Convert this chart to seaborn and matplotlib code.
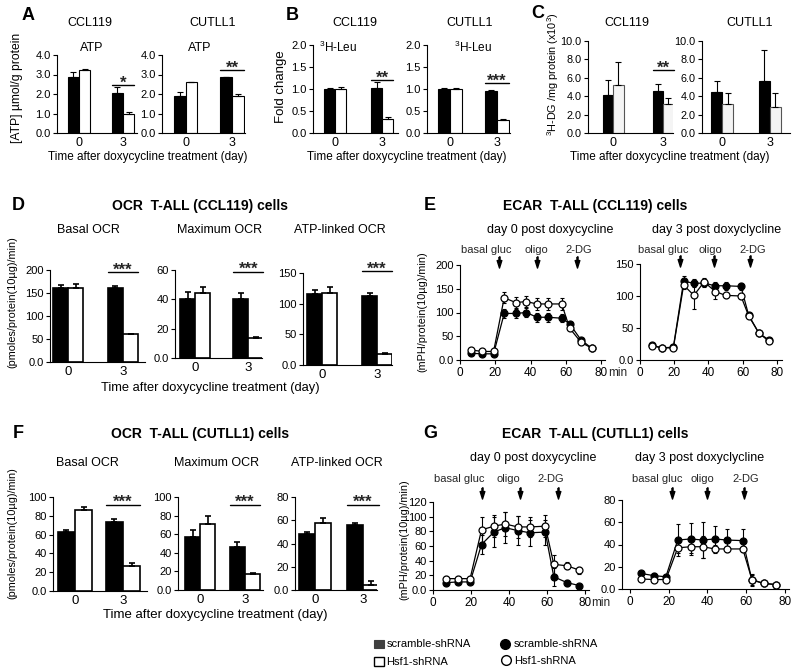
import matplotlib
matplotlib.use('Agg')
import matplotlib.pyplot as plt
from matplotlib import font_manager
from matplotlib.patches import Rectangle
from matplotlib.lines import Line2D
import seaborn as sns
import pandas as pd

# ---------------- data ----------------
groups = ['scramble-shRNA', 'Hsf1-shRNA']
days = ['0', '3']

# A: ATP (umol/g protein), [day0, day3]
A_ccl_scr = [2.85, 2.05]; A_ccl_scr_err = [0.30, 0.30]
A_ccl_hsf = [3.25, 0.95]; A_ccl_hsf_err = [0.05, 0.12]
A_cut_scr = [1.90, 2.85]; A_cut_scr_err = [0.20, 0.03]
A_cut_hsf = [2.60, 1.90]; A_cut_hsf_err = [0.03, 0.10]
A_yticks = [0, 1, 2, 3, 4]
A_yticklabels = ['0.0', '1.0', '2.0', '3.0', '4.0']

# B: 3H-Leu fold change
B_ccl_scr = [1.00, 1.03]; B_ccl_scr_err = [0.02, 0.12]
B_ccl_hsf = [1.00, 0.32]; B_ccl_hsf_err = [0.04, 0.04]
B_cut_scr = [1.00, 0.95]; B_cut_scr_err = [0.03, 0.03]
B_cut_hsf = [1.00, 0.30]; B_cut_hsf_err = [0.03, 0.02]
B_yticks = [0, 0.5, 1.0, 1.5, 2.0]
B_yticklabels = ['0.0', '0.5', '1.0', '1.5', '2.0']

# C: 3H-DG /mg protein (x10^3)
C_ccl_scr = [4.1, 4.6]; C_ccl_scr_err = [1.7, 0.7]
C_ccl_hsf = [5.2, 3.2]; C_ccl_hsf_err = [2.5, 0.6]
C_cut_scr = [4.5, 5.6]; C_cut_scr_err = [1.2, 3.4]
C_cut_hsf = [3.1, 2.8]; C_cut_hsf_err = [1.3, 1.6]
C_yticks = [0, 2, 4, 6, 8, 10]
C_yticklabels = ['0.0', '2.0', '4.0', '6.0', '8.0', '10.0']

# D: OCR CCL119
D_basal_scr = [160, 160]; D_basal_scr_err = [7, 5]
D_basal_hsf = [160, 60]; D_basal_hsf_err = [9, 1]
D_max_scr = [40.3, 40.3]; D_max_scr_err = [5.0, 4.0]
D_max_hsf = [44.0, 13.6]; D_max_hsf_err = [4.5, 0.5]
D_atp_scr = [116, 112]; D_atp_scr_err = [7, 6]
D_atp_hsf = [117, 18]; D_atp_hsf_err = [10, 2]
D_basal_yticks = [0, 50, 100, 150, 200]; D_basal_yticklabels = ['0.0', '50', '100', '150', '200']
D_max_yticks = [0, 20, 40, 60]; D_max_yticklabels = ['0.0', '20', '40', '60']
D_atp_yticks = [0, 50, 100, 150]; D_atp_yticklabels = ['0.0', '50', '100', '150']

# F: OCR CUTLL1
F_basal_scr = [63, 73]; F_basal_scr_err = [1.5, 3.5]
F_basal_hsf = [86, 26.4]; F_basal_hsf_err = [3, 3.5]
F_max_scr = [57.5, 46]; F_max_scr_err = [6.5, 6]
F_max_hsf = [71, 17]; F_max_hsf_err = [8.6, 1]
F_atp_scr = [48.3, 56]; F_atp_scr_err = [2, 2]
F_atp_hsf = [58, 4.3]; F_atp_hsf_err = [4, 3.5]
F_yticks100 = [0, 20, 40, 60, 80, 100]; F_yticklabels100 = ['0.0', '20', '40', '60', '80', '100']
F_yticks80 = [0, 20, 40, 60, 80]; F_yticklabels80 = ['0.0', '20', '40', '60', '80']

# E: ECAR CCL119 (time in min)
E0_t = [6.5, 12.5, 19, 25, 31.5, 37.5, 43.5, 49.5, 57.5, 62, 68.5, 74.5]
E0_scr = [14, 13, 13, 98, 98, 100, 90, 90, 88, 76, 42, 25]
E0_scr_err = [3, 3, 3, 10, 10, 10, 9, 9, 9, 4, 4, 3]
E0_hsf = [21, 18, 18, 131, 121, 123, 118, 118, 118, 67, 37, 25]
E0_hsf_err = [3, 3, 3, 12, 12, 12, 12, 12, 12, 4, 4, 3]
E3_t = [7, 13, 19.5, 25.5, 31.5, 37.5, 44, 50, 59, 63.5, 69.5, 75.5]
E3_scr = [23, 19, 20, 123, 120, 120, 116, 116, 115, 70, 42, 31]
E3_scr_err = [3, 3, 3, 8, 6, 6, 6, 6, 6, 4, 4, 3]
E3_hsf = [22, 19, 19, 117, 101, 122, 107, 101, 100, 69, 42, 29]
E3_hsf_err = [3, 3, 3, 6, 21, 6, 12, 4, 4, 4, 3, 3]
E0_yticks = [0, 50, 100, 150, 200]; E0_yticklabels = ['0.0', '50', '100', '150', '200']
E3_yticks = [0, 50, 100, 150]; E3_yticklabels = ['0.0', '50', '100', '150']

# G: ECAR CUTLL1
G0_t = [7, 13, 19.5, 25.5, 32, 38, 44.5, 51, 59, 63.5, 70.5, 77]
G0_scr = [10, 11, 11, 62, 79, 85, 81, 78, 79, 18, 10, 6]
G0_scr_err = [3, 3, 3, 13, 20, 21, 20, 18, 17, 12, 4, 2]
G0_hsf = [15.5, 15.5, 15.5, 82, 87, 90, 86, 86, 87, 35, 33, 27]
G0_hsf_err = [3, 3, 3, 17, 15, 16, 15, 14, 15, 13, 5, 5]
G3_t = [5.7, 12.4, 18.6, 24.7, 31.4, 37.6, 43.8, 50, 58.2, 62.9, 69, 75.3]
G3_scr = [14, 12, 11, 44, 45, 44, 45, 44, 43.5, 8, 5, 4]
G3_scr_err = [2, 2, 2, 14, 14, 16, 12, 10, 10, 5, 2, 1]
G3_hsf = [9, 8.5, 8.5, 37, 38, 38, 36, 36, 36, 8.5, 5, 4]
G3_hsf_err = [2, 2, 2, 5, 6, 10, 4, 3, 3, 5, 2, 1]
G0_yticks = [0, 20, 40, 60, 80, 100, 120]; G0_yticklabels = ['0.0', '20', '40', '60', '80', '100', '120']
G3_yticks = [0, 20, 40, 60, 80]; G3_yticklabels = ['0.0', '20', '40', '60', '80']

time_ticks = [0, 20, 40, 60, 80]
time_ticklabels = ['0', '20', '40', '60', '80']

# ---------------- style ----------------
sns.set_theme(style='ticks')
names = {f.name for f in font_manager.fontManager.ttflist}
BASE = 'Liberation Sans' if 'Liberation Sans' in names else 'DejaVu Sans'
NARROW = 'Liberation Sans Narrow' if 'Liberation Sans Narrow' in names else None
plt.rcParams['font.family'] = [BASE, 'DejaVu Sans']
plt.rcParams['axes.linewidth'] = 0.8
plt.rcParams['mathtext.default'] = 'regular'

W, H = 800, 672
fig = plt.figure(figsize=(W / 100, H / 100), dpi=100)
fig.patch.set_facecolor('white')


def rect(x0, y_top, x1, y_bot):
    return [x0 / W, 1 - y_bot / H, (x1 - x0) / W, (y_bot - y_top) / H]


def ftext(x, y, s, size=9, rot=0, weight='normal', family=None, ha='center'):
    kw = {}
    if family:
        kw['family'] = family
    fig.text(x / W, 1 - y / H, s, ha=ha, va='center', fontsize=size, rotation=rot,
             fontweight=weight, color='black', **kw)


def style_axes(ax, ylim, yticks, yticklabels, xlim, ysize=8):
    ax.set_ylim(*ylim)
    ax.set_yticks(yticks)
    ax.set_yticklabels(yticklabels)
    ax.set_xlim(*xlim)
    sns.despine(ax=ax)
    for s in ('left', 'bottom'):
        ax.spines[s].set_linewidth(0.8)
        ax.spines[s].set_color('black')
    ax.tick_params(axis='y', direction='out', length=3, width=0.8, pad=1.5,
                   labelsize=ysize, colors='black')
    ax.set_xlabel('')
    ax.set_ylabel('')
    ax.set_facecolor('none')


def bar_panel(box, scr, scr_err, hsf, hsf_err, ylim, yticks, yticklabels, xlim, width,
              sig=None, lw=0.8, hsf_face='white', hsf_edge='black', ysize=8, xsize=9):
    ax = fig.add_axes(rect(*box))
    df = pd.DataFrame({'day': days * 2, 'value': list(scr) + list(hsf),
                       'group': [groups[0]] * 2 + [groups[1]] * 2})
    sns.barplot(data=df, x='day', y='value', hue='group', hue_order=groups, order=days,
                palette={groups[0]: 'black', groups[1]: hsf_face}, width=width,
                errorbar=None, saturation=1, edgecolor='black', linewidth=lw,
                legend=False, ax=ax)
    errs = {0: list(scr_err), 1: list(hsf_err)}
    for p in ax.patches:
        xc = p.get_x() + p.get_width() / 2
        cat = int(round(xc))
        g = 0 if xc < cat else 1
        if g == 1:
            p.set_edgecolor(hsf_edge)
        e = errs[g][cat]
        ax.errorbar(xc, p.get_height(), yerr=[[0], [e]], fmt='none', ecolor='black',
                    elinewidth=lw, capsize=2, capthick=lw, zorder=5)
    style_axes(ax, ylim, yticks, yticklabels, xlim, ysize)
    ax.set_xticks([0, 1])
    ax.set_xticklabels(days)
    ax.tick_params(axis='x', length=0, pad=3, labelsize=xsize, colors='black')
    if sig is not None:
        y, stars = sig
        x1, x2 = 1 - width / 2, 1 + width / 2
        ax.plot([x1, x2], [y, y], color='black', lw=1.0, clip_on=False, zorder=6)
        ax.annotate(stars, xy=((x1 + x2) / 2, y), xytext=(0, -1.8), textcoords='offset points',
                    ha='center', va='baseline', fontsize=12, fontweight='bold',
                    annotation_clip=False)
    return ax


ARROW = [(-0.1, 1), (0.1, 1), (0.1, 0.35), (0.42, 0.35), (0, -1), (-0.42, 0.35),
         (-0.1, 0.35), (-0.1, 1)]


def line_panel(box, t, scr, scr_err, hsf, hsf_err, ylim, yticks, yticklabels, xlim,
               arrows, labels, arrow_y, label_y, min_label=False):
    ax = fig.add_axes(rect(*box))
    for vals, errs, face, z in ((scr, scr_err, 'black', 3), (hsf, hsf_err, 'white', 4)):
        df = pd.DataFrame({'t': t, 'v': vals})
        ax.errorbar(t, vals, yerr=errs, fmt='none', ecolor='black', elinewidth=0.8,
                    capsize=1.5, capthick=0.8, zorder=z - 0.5)
        sns.lineplot(data=df, x='t', y='v', ax=ax, color='black', linewidth=0.9,
                     marker='o', markersize=5, markerfacecolor=face,
                     markeredgecolor='black', markeredgewidth=0.9, zorder=z)
    style_axes(ax, ylim, yticks, yticklabels, xlim)
    ax.set_xticks(time_ticks)
    ax.set_xticklabels(time_ticklabels)
    ax.tick_params(axis='x', direction='out', length=3, width=0.8, pad=2, labelsize=8.5,
                   colors='black')
    tr = ax.get_xaxis_transform()
    for xa in arrows:
        ax.plot([xa], [arrow_y], marker=ARROW, markersize=8, color='black', transform=tr,
                clip_on=False, linestyle='none')
    for (xl, s) in labels:
        ax.text(xl, label_y, s, transform=tr, ha='center', va='center', fontsize=8,
                clip_on=False)
    if min_label:
        ax.annotate('min', xy=(80, 0), xycoords=tr, xytext=(4.5, -5), textcoords='offset points',
                    ha='left', va='top', fontsize=8.5, annotation_clip=False)
    return ax


# ---------------- panels A, B, C ----------------
bar_panel((57, 55, 137, 133), A_ccl_scr, A_ccl_scr_err, A_ccl_hsf, A_ccl_hsf_err,
          (0, 4), A_yticks, A_yticklabels, (-0.5, 1.32), 0.52, sig=(2.46, '*'))
bar_panel((162, 55, 245, 133), A_cut_scr, A_cut_scr_err, A_cut_hsf, A_cut_hsf_err,
          (0, 4), A_yticks, A_yticklabels, (-0.51, 1.28), 0.5, sig=(3.23, '**'))
bar_panel((313, 45, 398, 133), B_ccl_scr, B_ccl_scr_err, B_ccl_hsf, B_ccl_hsf_err,
          (0, 2), B_yticks, B_yticklabels, (-0.47, 1.34), 0.47, sig=(1.2, '**'))
bar_panel((427, 45, 510, 133), B_cut_scr, B_cut_scr_err, B_cut_hsf, B_cut_hsf_err,
          (0, 2), B_yticks, B_yticklabels, (-0.49, 1.28), 0.5, sig=(1.13, '***'))
bar_panel((588, 41, 673, 133), C_ccl_scr, C_ccl_scr_err, C_ccl_hsf, C_ccl_hsf_err,
          (0, 10), C_yticks, C_yticklabels, (-0.5, 1.2), 0.42, sig=(6.85, '**'),
          hsf_face='#f4f4f4', hsf_edge='#555555', ysize=7.8)
bar_panel((702, 41, 790, 133), C_cut_scr, C_cut_scr_err, C_cut_hsf, C_cut_hsf_err,
          (0, 10), C_yticks, C_yticklabels, (-0.42, 1.42), 0.46,
          hsf_face='#f4f4f4', hsf_edge='#555555', ysize=7.8)

ftext(28, 15, 'A', size=13, weight='bold')
ftext(292, 15, 'B', size=13, weight='bold')
ftext(538, 13, 'C', size=13, weight='bold')
for x, s in ((90, 'CCL119'), (213, 'CUTLL1'), (355, 'CCL119'), (470, 'CUTLL1'),
             (627, 'CCL119'), (750, 'CUTLL1')):
    ftext(x, 23, s, size=9)
ftext(92, 48, 'ATP', size=9)
ftext(200, 48, 'ATP', size=9)
ftext(338, 47, '$^{3}$H-Leu', size=8.5)
ftext(473, 47, '$^{3}$H-Leu', size=8.5)
ftext(17, 88, '[ATP] \u00b5mol/g protein', size=8.7, rot=90)
ftext(281, 87, 'Fold change', size=9.5, rot=90)
ftext(553, 74, '$^{3}$H-DG /mg protein (x10$^{3}$)', size=7.8, rot=90)
for x in (148, 407, 670):
    ftext(x, 157, 'Time after doxycycline treatment (day)', size=8.5)

# ---------------- panels D, F ----------------
bar_panel((50, 270, 145, 362), D_basal_scr, D_basal_scr_err, D_basal_hsf, D_basal_hsf_err,
          (0, 200), D_basal_yticks, D_basal_yticklabels, (-0.33, 1.4), 0.55,
          sig=(196, '***'), lw=1.2, xsize=9.5)
bar_panel((175, 270, 262, 358), D_max_scr, D_max_scr_err, D_max_hsf, D_max_hsf_err,
          (0, 60), D_max_yticks, D_max_yticklabels, (-0.38, 1.26), 0.57,
          sig=(58.8, '***'), lw=1.2, xsize=9.5)
bar_panel((303, 273, 392, 365), D_atp_scr, D_atp_scr_err, D_atp_hsf, D_atp_hsf_err,
          (0, 150), D_atp_yticks, D_atp_yticklabels, (-0.35, 1.27), 0.55,
          sig=(152.7, '***'), lw=1.2, xsize=9.5)

bar_panel((53, 497, 147, 591), F_basal_scr, F_basal_scr_err, F_basal_hsf, F_basal_hsf_err,
          (0, 100), F_yticks100, F_yticklabels100, (-0.46, 1.5), 0.72,
          sig=(91.8, '***'), lw=1.2, xsize=9.5)
bar_panel((178, 497, 263, 590), F_max_scr, F_max_scr_err, F_max_hsf, F_max_hsf_err,
          (0, 100), F_yticks100, F_yticklabels100, (-0.49, 1.4), 0.67,
          sig=(91.7, '***'), lw=1.2, xsize=9.5)
bar_panel((295, 497, 377, 590), F_atp_scr, F_atp_scr_err, F_atp_hsf, F_atp_hsf_err,
          (0, 80), F_yticks80, F_yticklabels80, (-0.42, 1.29), 0.67,
          sig=(73.4, '***'), lw=1.2, xsize=9.5)

head_family = [NARROW, BASE] if NARROW else None
head_size = 12 if NARROW else 10
ftext(18, 206, 'D', size=13, weight='bold')
ftext(430, 206, 'E', size=13, weight='bold')
ftext(18, 434, 'F', size=13, weight='bold')
ftext(430, 434, 'G', size=13, weight='bold')
ftext(200, 206, 'OCR  T-ALL (CCL119) cells', size=head_size, weight='bold', family=head_family)
ftext(595, 206, 'ECAR  T-ALL (CCL119) cells', size=head_size, weight='bold', family=head_family)
ftext(200, 434, 'OCR  T-ALL (CUTLL1) cells', size=head_size, weight='bold', family=head_family)
ftext(595, 434, 'ECAR  T-ALL (CUTLL1) cells', size=head_size, weight='bold', family=head_family)
for x, s in ((88, 'Basal OCR'), (220, 'Maximum OCR'), (340, 'ATP-linked OCR')):
    ftext(x, 230, s, size=9)
for x, s in ((87, 'Basal OCR'), (217, 'Maximum OCR'), (337, 'ATP-linked OCR')):
    ftext(x, 463, s, size=9)
ftext(12, 302, '(pmoles/protein(10\u00b5g)/min)', size=7.8, rot=90)
ftext(12, 533, '(pmoles/protein(10\u00b5g)/min)', size=7.8, rot=90)
ftext(210, 388, 'Time after doxycycline treatment (day)', size=9.3)
ftext(215, 615, 'Time after doxycycline treatment (day)', size=9.5)

# ---------------- panels E, G ----------------
line_panel((460, 265, 605, 360), E0_t, E0_scr, E0_scr_err, E0_hsf, E0_hsf_err,
           (0, 200), E0_yticks, E0_yticklabels, (0, 82),
           [22, 43.4, 66], [(15, 'basal gluc'), (43, 'oligo'), (67, '2-DG')],
           1.03, 1.16, min_label=True)
line_panel((640, 264, 782, 360), E3_t, E3_scr, E3_scr_err, E3_hsf, E3_hsf_err,
           (0, 150), E3_yticks, E3_yticklabels, (0, 83),
           [23.4, 43, 64.3], [(13.5, 'basal gluc'), (41, 'oligo'), (66, '2-DG')],
           1.03, 1.15)
line_panel((433, 502, 589, 590), G0_t, G0_scr, G0_scr_err, G0_hsf, G0_hsf_err,
           (0, 120), G0_yticks, G0_yticklabels, (0, 82),
           [25.8, 45.6, 65.6], [(14, 'basal gluc'), (39.5, 'oligo'), (62, '2-DG')],
           1.1, 1.26, min_label=True)
line_panel((622, 500, 789, 589), G3_t, G3_scr, G3_scr_err, G3_hsf, G3_hsf_err,
           (0, 80), G3_yticks, G3_yticklabels, (-4, 82),
           [22, 39.7, 58.8], [(14, 'basal gluc'), (37.6, 'oligo'), (59.8, '2-DG')],
           1.08, 1.24)

ftext(550, 230, 'day 0 post doxycycline', size=9)
ftext(717, 230, 'day 3 post doxyclycline', size=9)
ftext(533, 458, 'day 0 post doxycycline', size=9)
ftext(700, 458, 'day 3 post doxyclycline', size=9)
ftext(422, 312, '(mPH/protein(10\u00b5g)/min)', size=7.8, rot=90)
ftext(404, 540, '(mPH/protein(10\u00b5g)/min)', size=7.8, rot=90)

# ---------------- legend ----------------
fig.add_artist(Rectangle((374 / W, 1 - 648 / H), 10 / W, 8 / H, transform=fig.transFigure,
                         facecolor='#404040', edgecolor='#404040', lw=0.8))
fig.add_artist(Rectangle((374 / W, 1 - 666 / H), 10 / W, 9 / H, transform=fig.transFigure,
                         facecolor='white', edgecolor='black', lw=1.0))
ftext(387, 644, groups[0], size=8, ha='left')
ftext(386, 662, groups[1], size=8, ha='left')
fig.add_artist(Line2D([505 / W], [1 - 644 / H], transform=fig.transFigure, marker='o',
                      markersize=7, markerfacecolor='black', markeredgecolor='black'))
fig.add_artist(Line2D([506 / W], [1 - 660 / H], transform=fig.transFigure, marker='o',
                      markersize=7, markerfacecolor='white', markeredgecolor='black',
                      markeredgewidth=1.0))
ftext(514, 644, groups[0], size=8, ha='left')
ftext(514, 661, groups[1], size=8, ha='left')

fig.savefig('out.png', dpi=100, facecolor='white')
